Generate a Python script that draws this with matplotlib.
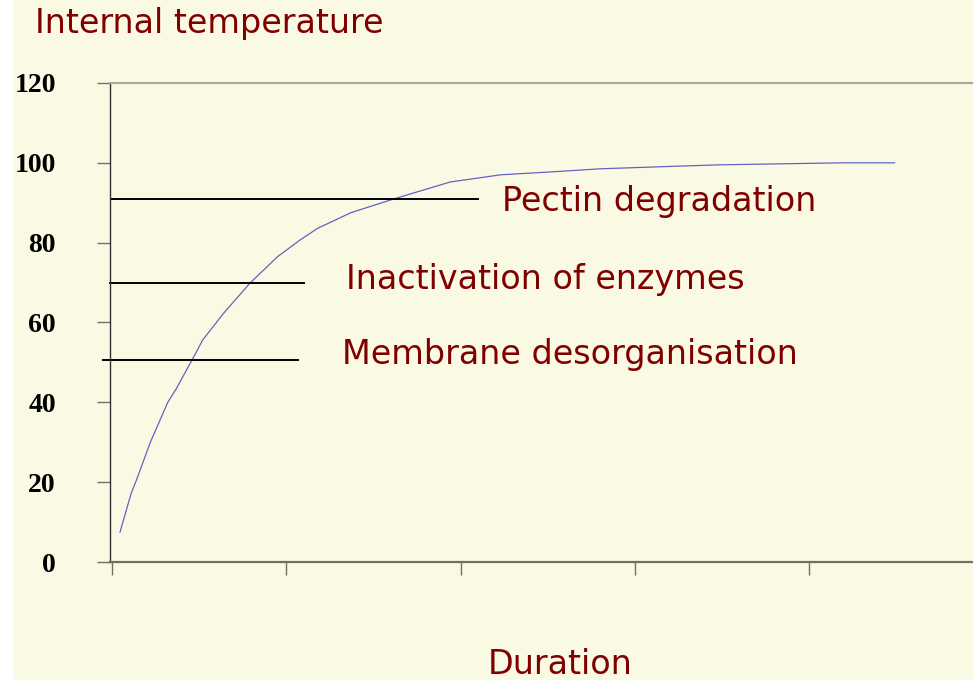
import matplotlib.pyplot as plt
from matplotlib.patches import Rectangle

# heating curve: duration (arbitrary units, one per tick) vs internal temperature
duration = [0.046, 0.11, 0.14, 0.22, 0.32, 0.37, 0.48, 0.52, 0.64, 0.79,
            0.95, 1.08, 1.18, 1.37, 1.62, 1.94, 2.23, 2.51, 2.80, 3.20,
            3.49, 4.18, 4.49]
temperature = [7.5, 17.2, 20.5, 30.0, 40.0, 43.5, 52.3, 55.6, 62.3, 69.8,
               76.5, 80.7, 83.6, 87.5, 91.0, 95.2, 97.0, 97.7, 98.5, 99.1,
               99.5, 100.0, 100.0]

# thresholds: (label, temperature, line start, line end, label x, label y)
thresholds = [
    ("Pectin degradation", 91.0, 0.0, 2.10, 2.24, 90.25),
    ("Inactivation of enzymes", 69.8, -0.01, 1.10, 1.34, 70.8),
    ("Membrane desorganisation", 50.6, -0.05, 1.07, 1.32, 52.1),
]

y_ticks = [0, 20, 40, 60, 80, 100, 120]
x_ticks = [0, 1, 2, 3, 4]

bg = "#FAFAE4"
text_red = "#800000"
label_size = 24

fig = plt.figure(figsize=(9.73, 6.80), dpi=100, facecolor=bg)
fig.patches.append(Rectangle((0, 0), 13 / 973, 1, transform=fig.transFigure,
                             facecolor="white", edgecolor="none", zorder=0))

ax = fig.add_axes([110 / 973, 1 - 562 / 680, 1 - 110 / 973, (562 - 83) / 680])
ax.set_facecolor(bg)
ax.set_xlim(-0.0115, 4.94)
ax.set_ylim(0, 120)

ax.plot(duration, temperature, color="#6262C0", lw=0.9)

for label, temp, x0, x1, lx, ly in thresholds:
    ax.plot([x0, x1], [temp, temp], color="black", lw=1.4, clip_on=False)
    ax.text(lx, ly, label, color=text_red, fontsize=label_size,
            family="DejaVu Sans", va="center", ha="left")

ax.spines["right"].set_visible(False)
ax.spines["top"].set_color("#A8A898")
ax.spines["top"].set_linewidth(1.5)
ax.spines["left"].set_color("#303030")
ax.spines["left"].set_linewidth(1.0)
ax.spines["bottom"].set_color("#707060")
ax.spines["bottom"].set_linewidth(1.6)

ax.set_yticks(y_ticks)
ax.set_yticklabels([str(v) for v in y_ticks], family="Liberation Serif",
                   fontweight="bold", fontsize=20)
ax.tick_params(axis="y", length=9.4, width=1, color="#707060", pad=29.5)

ax.set_xticks(x_ticks)
ax.set_xticklabels([])
ax.tick_params(axis="x", length=9.4, width=1, color="#707060")

fig.text(35 / 973, 1 - 24 / 680, "Internal temperature", color=text_red,
         fontsize=label_size, family="DejaVu Sans", va="center", ha="left")
fig.text(560 / 973, 1 - 665 / 680, "Duration", color=text_red,
         fontsize=label_size, family="DejaVu Sans", va="center", ha="center")

fig.savefig("out.png", dpi=100, facecolor=bg)
